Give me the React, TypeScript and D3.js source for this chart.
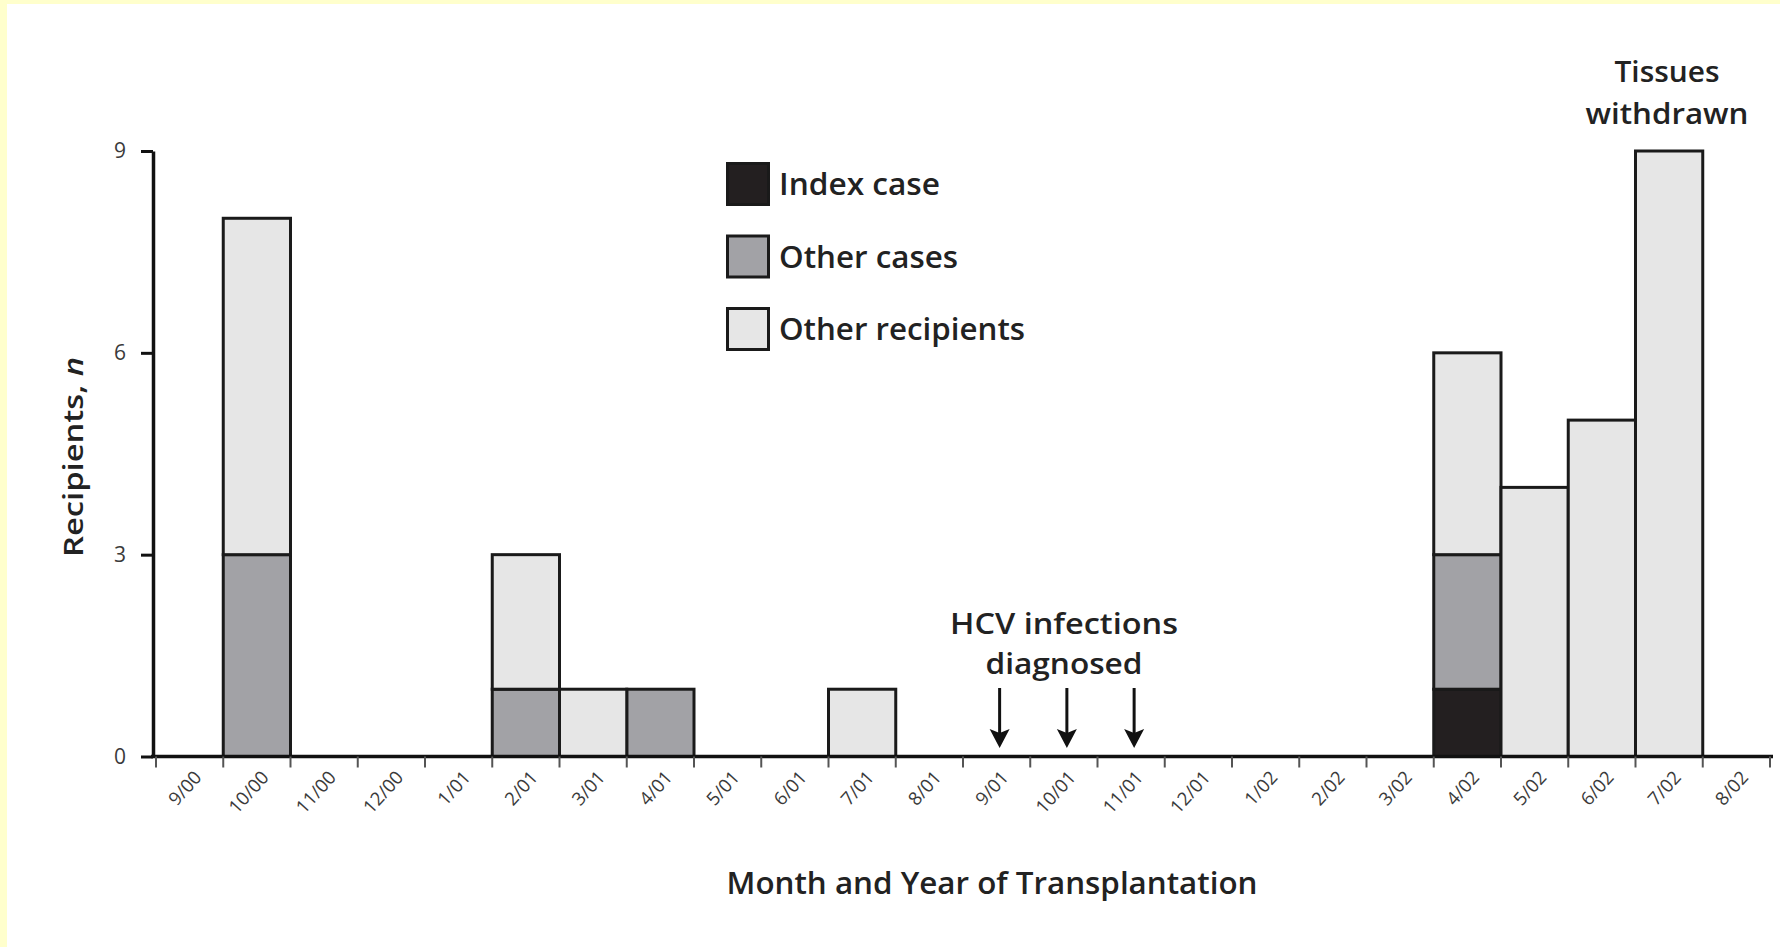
import React, { useEffect, useRef } from "react";
import * as d3 from "d3";

const months = [
  "9/00", "10/00", "11/00", "12/00", "1/01", "2/01", "3/01", "4/01",
  "5/01", "6/01", "7/01", "8/01", "9/01", "10/01", "11/01", "12/01",
  "1/02", "2/02", "3/02", "4/02", "5/02", "6/02", "7/02", "8/02",
];
const indexCase = [0, 0, 0, 0, 0, 0, 0, 0, 0, 0, 0, 0, 0, 0, 0, 0, 0, 0, 0, 1, 0, 0, 0, 0];
const otherCases = [0, 3, 0, 0, 0, 1, 0, 1, 0, 0, 0, 0, 0, 0, 0, 0, 0, 0, 0, 2, 0, 0, 0, 0];
const otherRecipients = [0, 5, 0, 0, 0, 2, 1, 0, 0, 0, 1, 0, 0, 0, 0, 0, 0, 0, 0, 3, 4, 5, 9, 0];
const yTicks = [0, 3, 6, 9];
const seriesKeys = ["index", "other", "recip"];
const seriesLabels = ["Index case", "Other cases", "Other recipients"];
const seriesColors = ["#231f20", "#a2a2a6", "#e6e6e6"];
const diagnosedMonths = ["9/01", "10/01", "11/01"];

const FONT = "'Open Sans', 'DejaVu Sans', sans-serif";

export default function App() {
  const ref = useRef<SVGSVGElement>(null);

  useEffect(() => {
    const width = 1780;
    const height = 947;

    const svg = d3.select(ref.current);
    svg.selectAll("*").remove();

    // yellow frame round the figure
    svg.append("rect").attr("width", width).attr("height", height).attr("fill", "#ffffcc");
    svg.append("rect").attr("x", 7).attr("y", 4).attr("width", width - 7).attr("height", height - 4).attr("fill", "#fff");

    const x = d3.scaleBand<string>().domain(months).range([156, 1770]).padding(0);
    const y = d3.scaleLinear().domain([0, 9]).range([756.5, 151]);

    const rows = months.map((m, i) => ({
      month: m,
      index: indexCase[i],
      other: otherCases[i],
      recip: otherRecipients[i],
    }));

    const stacked = d3.stack<any>().keys(seriesKeys)(rows);

    // bars
    stacked.forEach((layer, li) => {
      svg
        .append("g")
        .selectAll("rect")
        .data(layer.filter((d) => d[1] - d[0] > 0))
        .enter()
        .append("rect")
        .attr("x", (d) => x(d.data.month) as number)
        .attr("y", (d) => y(d[1]))
        .attr("width", x.bandwidth())
        .attr("height", (d) => y(d[0]) - y(d[1]))
        .attr("fill", seriesColors[li])
        .attr("stroke", "#1a1a1a")
        .attr("stroke-width", 3);
    });

    // x axis
    const axisY = y(0);
    svg
      .append("line")
      .attr("x1", 151)
      .attr("x2", 1773)
      .attr("y1", axisY)
      .attr("y2", axisY)
      .attr("stroke", "#111")
      .attr("stroke-width", 3.5);

    const bounds = months.map((m) => x(m) as number).concat([x.range()[1]]);
    svg
      .append("g")
      .selectAll("line")
      .data(bounds)
      .enter()
      .append("line")
      .attr("x1", (d) => d)
      .attr("x2", (d) => d)
      .attr("y1", axisY)
      .attr("y2", axisY + 11)
      .attr("stroke", "#555")
      .attr("stroke-width", 2);

    svg
      .append("g")
      .selectAll("text")
      .data(months)
      .enter()
      .append("text")
      .attr("transform", (d) => `translate(${(x(d) as number) + 37},${axisY + 13}) rotate(-48)`)
      .attr("text-anchor", "end")
      .attr("dy", "0.7em")
      .attr("font-family", FONT)
      .attr("font-size", 18.5)
      .attr("fill", "#3a3a3a")
      .text((d) => d);

    // y axis
    const yAxis = svg
      .append("g")
      .attr("transform", "translate(153,0)")
      .call(d3.axisLeft(y).tickValues(yTicks).tickSize(12).tickSizeOuter(0).tickPadding(20));
    yAxis.select(".domain").attr("stroke", "#111").attr("stroke-width", 3.5);
    yAxis.selectAll(".tick line").attr("stroke", "#111").attr("stroke-width", 3);
    yAxis
      .selectAll(".tick text")
      .attr("font-family", FONT)
      .attr("font-size", 21)
      .attr("fill", "#3a3a3a")
      .attr("text-anchor", "middle")
      .attr("x", -33);

    // axis titles
    svg
      .append("text")
      .attr("x", 992)
      .attr("y", 894)
      .attr("text-anchor", "middle")
      .attr("font-family", FONT)
      .attr("font-weight", 600)
      .attr("font-size", 30)
      .attr("fill", "#222")
      .attr("textLength", 531)
      .attr("lengthAdjust", "spacingAndGlyphs")
      .text("Month and Year of Transplantation");

    const yTitle = svg
      .append("text")
      .attr("transform", "translate(83,457) rotate(-90)")
      .attr("text-anchor", "middle")
      .attr("font-family", FONT)
      .attr("font-weight", 600)
      .attr("font-size", 27)
      .attr("fill", "#222")
      .attr("textLength", 200)
      .attr("lengthAdjust", "spacingAndGlyphs");
    yTitle.append("tspan").text("Recipients, ");
    yTitle.append("tspan").attr("font-style", "italic").text("n");

    // legend
    const legend = svg.append("g").attr("transform", "translate(726,162)");
    const legendWidths = [161, 179, 246];
    seriesLabels.forEach((label, i) => {
      const g = legend.append("g").attr("transform", `translate(0,${i * 72.5})`);
      g.append("rect")
        .attr("x", 1.5)
        .attr("y", 1.5)
        .attr("width", 41)
        .attr("height", 41)
        .attr("fill", seriesColors[i])
        .attr("stroke", "#1a1a1a")
        .attr("stroke-width", 3);
      g.append("text")
        .attr("x", 53)
        .attr("y", 33)
        .attr("font-family", FONT)
        .attr("font-weight", 600)
        .attr("font-size", 31)
        .attr("fill", "#222")
        .attr("textLength", legendWidths[i])
        .attr("lengthAdjust", "spacingAndGlyphs")
        .text(label);
    });

    // annotations
    const note = (lines: string[], cx: number, base: number[], widths: number[], size: number) => {
      lines.forEach((t, i) => {
        svg
          .append("text")
          .attr("x", cx)
          .attr("y", base[i])
          .attr("text-anchor", "middle")
          .attr("font-family", FONT)
          .attr("font-weight", 600)
          .attr("font-size", size)
          .attr("fill", "#222")
          .attr("textLength", widths[i])
          .attr("lengthAdjust", "spacingAndGlyphs")
          .text(t);
      });
    };
    note(["Tissues", "withdrawn"], 1667, [82, 124], [105, 163], 29);
    note(["HCV infections", "diagnosed"], 1064, [634, 674], [228, 157], 28);

    // arrows for diagnosis dates
    const arrows = svg
      .append("g")
      .selectAll("g")
      .data(diagnosedMonths)
      .enter()
      .append("g")
      .attr("transform", (d) => `translate(${(x(d) as number) + x.bandwidth() / 2 + 3},0)`);
    arrows
      .append("line")
      .attr("y1", 688)
      .attr("y2", 736)
      .attr("stroke", "#111")
      .attr("stroke-width", 3);
    arrows
      .append("path")
      .attr("d", "M-10,729 L0,748 L10,729 L0,733 Z")
      .attr("fill", "#111");
  }, []);

  return (
    <svg
      ref={ref}
      width={1780}
      height={947}
      style={{ position: "absolute", left: 0, top: 0, display: "block" }}
    />
  );
}
